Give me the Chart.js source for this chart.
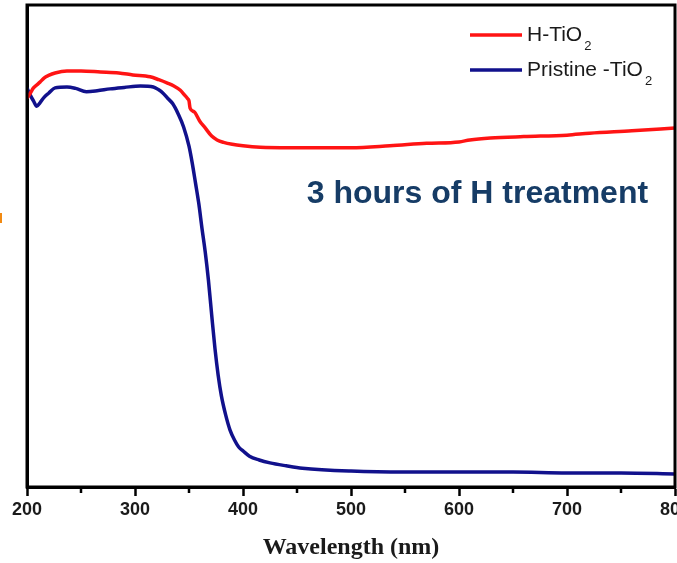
<!DOCTYPE html>
<html>
<head>
<meta charset="utf-8">
<title>UV-Vis absorbance of TiO2</title>
<script src="https://cdn.jsdelivr.net/npm/chart.js@4.4.1/dist/chart.umd.min.js"></script>
<style>
  html, body { margin: 0; padding: 0; background: #fff; }
  #wrap { width: 677px; height: 563px; }
</style>
</head>
<body>
<div id="wrap"><canvas id="uvChart" width="677" height="563"></canvas></div>
<script>
// Wavelength (nm) and absorbance (a.u.) for the hydrogenated sample
const hWavelength = [200, 203, 206, 209, 212, 216, 220, 226, 237, 250, 268, 285, 298, 314, 322, 330, 336, 342, 346, 349,
  350, 351, 355, 360, 365, 371, 376, 382, 390, 400, 416, 443, 480, 500, 536, 570, 600, 610, 629, 660, 700, 721, 760, 800]
const hAbsorbance = [0.807, 0.817, 0.828, 0.834, 0.840, 0.849, 0.854, 0.859, 0.863, 0.863, 0.861, 0.859, 0.855, 0.851, 0.845, 0.838, 0.832, 0.823, 0.813, 0.805,
  0.801, 0.786, 0.778, 0.759, 0.745, 0.728, 0.720, 0.715, 0.711, 0.708, 0.705, 0.704, 0.704, 0.704, 0.708, 0.713, 0.716, 0.720, 0.724, 0.727, 0.730, 0.734, 0.739, 0.745]

// Wavelength (nm) and absorbance (a.u.) for the untreated sample
const pWavelength = [200, 203, 206, 209, 212, 216, 220, 226, 237, 245, 255, 265, 277, 290, 305, 317, 322, 326, 330, 335,
  340, 345, 350, 353, 356, 359, 362, 365, 368, 371, 374, 377, 380, 384, 388, 392, 396, 400, 406, 415,
  425, 440, 455, 500, 550, 600, 650, 700, 750, 800]
const pAbsorbance = [0.828, 0.813, 0.801, 0.790, 0.797, 0.809, 0.817, 0.828, 0.830, 0.827, 0.820, 0.822, 0.826, 0.829, 0.832, 0.830, 0.824, 0.817, 0.807, 0.795,
  0.774, 0.747, 0.707, 0.672, 0.631, 0.589, 0.537, 0.488, 0.429, 0.357, 0.288, 0.232, 0.189, 0.149, 0.118, 0.098, 0.083, 0.075, 0.064, 0.056,
  0.050, 0.044, 0.039, 0.033, 0.031, 0.031, 0.031, 0.029, 0.029, 0.027]

const seriesNames = ['H-TiO2', 'Pristine -TiO2']
const seriesColors = ['#ff1414', '#11118c']
const noteText = '3 hours of H treatment'

const toPoints = (xs, ys) => xs.map((x, i) => ({ x: x, y: ys[i] }))

// frame round the plot, minor ticks, legend with subscripts and the note
const decorations = {
  id: 'decorations',
  afterDraw(chart) {
    const ctx = chart.ctx
    const area = chart.chartArea
    const xs = chart.scales.x
    const ys = chart.scales.y
    ctx.save()

    // minor ticks every 50 nm
    ctx.strokeStyle = '#000'
    ctx.lineWidth = 2.5
    for (let v = 250; v < 800; v += 100) {
      const px = xs.getPixelForValue(v)
      ctx.beginPath()
      ctx.moveTo(px, area.bottom)
      ctx.lineTo(px, area.bottom + 6)
      ctx.stroke()
    }

    // box
    ctx.lineWidth = 3
    ctx.strokeRect(area.left, area.top, area.right - area.left, area.bottom - area.top)

    // legend
    chart.data.datasets.forEach((ds, i) => {
      const y = 35 + i * 35
      ctx.strokeStyle = ds.borderColor
      ctx.lineWidth = 3.5
      ctx.beginPath()
      ctx.moveTo(470, y)
      ctx.lineTo(522, y)
      ctx.stroke()
      const main = ds.label.slice(0, -1)
      const sub = ds.label.slice(-1)
      ctx.fillStyle = '#1a1a1a'
      ctx.textBaseline = 'middle'
      ctx.font = '21px "Liberation Sans", Arial, sans-serif'
      ctx.fillText(main, 527, y)
      const w = ctx.measureText(main).width
      ctx.font = '13px "Liberation Sans", Arial, sans-serif'
      ctx.fillText(sub, 527 + w + 2, y + 11)
    })

    // annotation
    ctx.fillStyle = '#163c66'
    ctx.font = 'bold 32px "Liberation Sans", Arial, sans-serif'
    ctx.textBaseline = 'alphabetic'
    ctx.fillText(noteText, xs.getPixelForValue(459), ys.getPixelForValue(0.589))

    // orange edge mark at the left margin
    ctx.fillStyle = '#f28a12'
    ctx.fillRect(0, 213, 2, 10)
    ctx.restore()
  }
}

new Chart(document.getElementById('uvChart'), {
  type: 'line',
  data: {
    datasets: [
      {
        label: seriesNames[0],
        data: toPoints(hWavelength, hAbsorbance),
        borderColor: seriesColors[0],
        borderWidth: 3.5,
        pointRadius: 0,
        cubicInterpolationMode: 'monotone',
      },
      {
        label: seriesNames[1],
        data: toPoints(pWavelength, pAbsorbance),
        borderColor: seriesColors[1],
        borderWidth: 3.5,
        pointRadius: 0,
        cubicInterpolationMode: 'monotone',
      },
    ],
  },
  options: {
    responsive: false,
    animation: false,
    devicePixelRatio: 1,
    layout: { padding: { top: 5, right: 2, left: 0, bottom: 0 } },
    plugins: {
      legend: { display: false },
      tooltip: { enabled: false },
    },
    scales: {
      x: {
        type: 'linear',
        min: 200,
        max: 800,
        ticks: {
          stepSize: 100,
          color: '#1a1a1a',
          padding: 3,
          font: { family: '"Liberation Sans", Arial, sans-serif', size: 18, weight: 'bold' },
        },
        grid: {
          display: true,
          drawOnChartArea: false,
          tickLength: 9,
          tickWidth: 2.5,
          tickColor: '#000',
        },
        border: { display: true, color: '#000', width: 3 },
        title: {
          display: true,
          text: 'Wavelength (nm)',
          color: '#1a1a1a',
          font: { family: '"Liberation Serif", "Times New Roman", serif', size: 24, weight: 'bold' },
          padding: { top: 0, bottom: 1 },
        },
        afterFit(scale) {
          scale.height = 76
          scale.paddingLeft = 0
          scale.paddingRight = 0
        },
      },
      y: {
        min: 0,
        max: 1,
        ticks: { display: false },
        grid: { display: false },
        border: { display: true, color: '#000', width: 3 },
        afterFit(scale) {
          scale.width = 27
        },
      },
    },
  },
  plugins: [decorations],
})
</script>
</body>
</html>
